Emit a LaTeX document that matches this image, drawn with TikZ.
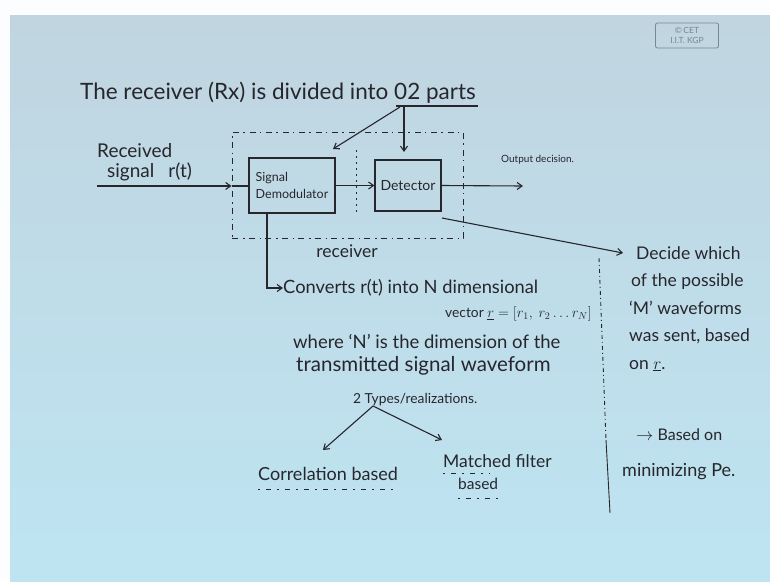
\documentclass[tikz,border=0pt]{standalone}
\usepackage{fontspec}
\setmainfont{Lato}
\usetikzlibrary{arrows.meta,calc}
\definecolor{bgtop}{RGB}{192,213,224}
\definecolor{bgbot}{RGB}{190,228,242}
\definecolor{ink}{RGB}{38,38,44}
\definecolor{stamp}{RGB}{120,135,145}
\tikzset{
  hw/.style={text=ink, inner sep=0pt, anchor=west},
  blk/.style={draw=ink, line width=1.1pt, inner sep=0pt, align=left, text=ink},
  wire/.style={draw=ink, line width=1.1pt},
  arr/.style={wire, -{Straight Barb[length=5pt,width=7pt]}},
  rxbox/.style={draw=ink, line width=0.9pt, dash pattern=on 6pt off 5pt on 1.5pt off 4pt, inner sep=0pt},
  dotv/.style={draw=ink, line width=0.9pt, dash pattern=on 2pt off 4pt},
  dotu/.style={draw=ink, line width=1pt, dash pattern=on 2pt off 6pt on 5pt off 6pt}
}
\begin{document}
\begin{tikzpicture}[x=1pt,y=-1pt]
\useasboundingbox (0,0) rectangle (770,581);
% page
\fill[white!96!bgtop] (0,0) rectangle (770,581);
\shade[top color=bgtop, bottom color=bgbot] (10,15) rectangle (770,581);
% stamp
\node (stampbox) [draw=stamp, line width=0.8pt, rounded corners=2pt, minimum width=63pt, minimum height=25pt, inner sep=0pt, align=center, text=stamp, font=\fontsize{8.5}{9.5}\selectfont] at (687,35.5) {\textcopyright\,CET\\I.I.T. KGP};

% title
\node (title) [hw, font=\fontsize{22.5}{26}\selectfont] at (80,93) {The receiver (Rx) is divided into 02 parts};
\coordinate (ul1) at (396,106);
\coordinate (ul2) at (478,106);
\draw[wire] (ul1) -- (ul2);
\coordinate (src) at (400,107);
\coordinate (tgtA) at (333,149);
\coordinate (srcB) at (404,107);
\coordinate (tgtB) at (404,152);
\draw[arr] (src) -- (tgtA);
\draw[arr] (srcB) -- (tgtB);

% receiver dashed box
\node (rx) [rxbox, minimum width=231pt, minimum height=106pt] at (347.5,185) {};
\node (rxlab) [hw, anchor=center, font=\fontsize{17.5}{20}\selectfont] at (347,251) {receiver};

% blocks
\node (demod) [blk, minimum width=86pt, minimum height=55pt, font=\fontsize{12.5}{17}\selectfont] at (292,185.5) {Signal\\Demodulator};
\node (det) [blk, minimum width=66pt, minimum height=51pt, font=\fontsize{14}{16}\selectfont] at (408,185.5) {Detector};
\draw[dotv] (356,150) -- (356,213);

% input
\node (rec1) [hw, font=\fontsize{19}{22}\selectfont] at (97,151) {Received};
\node (rec2) [hw, font=\fontsize{19}{22}\selectfont] at (107,172) {signal\hspace{14pt}r(t)};
\coordinate (in) at (97,186);
\coordinate (inTip) at (rx.west |- in);
\draw[arr] (in) -- (inTip);
\draw[wire] (inTip) -- (demod.west |- in);
\draw[arr] (demod.east |- det.west) -- (det.west);
\coordinate (out) at (523,186);
\draw[arr] (det.east) -- (out);
\node (outlab) [hw, font=\fontsize{10}{12}\selectfont] at (501,160) {Output decision.};

% decision arrow
\coordinate (dstart) at (442,218);
\coordinate (dend) at (623,253);
\draw[arr] (dstart) -- (dend);

% demodulator explanation
\node (conv) [hw, font=\fontsize{18.3}{21}\selectfont] at (283,288) {Converts r(t) into N dimensional};
\draw[arr] ([xshift=-25pt]demod.south) |- (conv.west);
\node (vec) [hw, font=\fontsize{13.8}{16}\selectfont] at (445,314) {vector $\underline{r} = [r_1,\ r_2 \ldots r_N]$};
\node (where) [hw, font=\fontsize{18.5}{21}\selectfont] at (293,341) {where `N' is the dimension of the};
\node (trans) [hw, font=\fontsize{20.5}{24}\selectfont] at (296,366) {transmitted signal waveform};
\node (types) [hw, font=\fontsize{13.8}{16}\selectfont] at (353,400) {2 Types/realizations.};
\coordinate (apex) at (373,406);
\node (corr) [hw, font=\fontsize{18}{21}\selectfont] at (258,474) {Correlation based};
\node (mat1) [hw, font=\fontsize{17.5}{20}\selectfont] at (443,461) {Matched filter};
\node (mat2) [hw, font=\fontsize{15.5}{18}\selectfont] at (458,484) {based};
\draw[arr] (apex) -- (323,450);
\draw[arr] (apex) -- (442,440);
\draw[dotu] (corr.south west |- 0,489) -- (corr.south east |- 0,489);
\draw[dotu] (443,473) -- (490,473);
\draw[dotu] (458,498) -- (498,498);

% right column
\draw[draw=ink, line width=0.9pt, dash pattern=on 4pt off 3pt on 1pt off 3pt] (599,258) -- (606,440);
\draw[draw=ink, line width=0.9pt] (606,440) -- (610,513);
\node (dec) [hw, font=\fontsize{17.5}{27.5}\selectfont, align=left, anchor=north west] at (629,246) {\hspace*{7pt}Decide which\\\hspace*{2pt}of the possible\\`M' waveforms\\was sent, based\\on $\underline{r}$.};
\node (pe1) [hw, font=\fontsize{16}{19}\selectfont] at (636,435) {$\rightarrow$ Based on};
\node (pe2) [hw, font=\fontsize{18}{20}\selectfont] at (622,472) {minimizing Pe.};
\end{tikzpicture}
\end{document}
